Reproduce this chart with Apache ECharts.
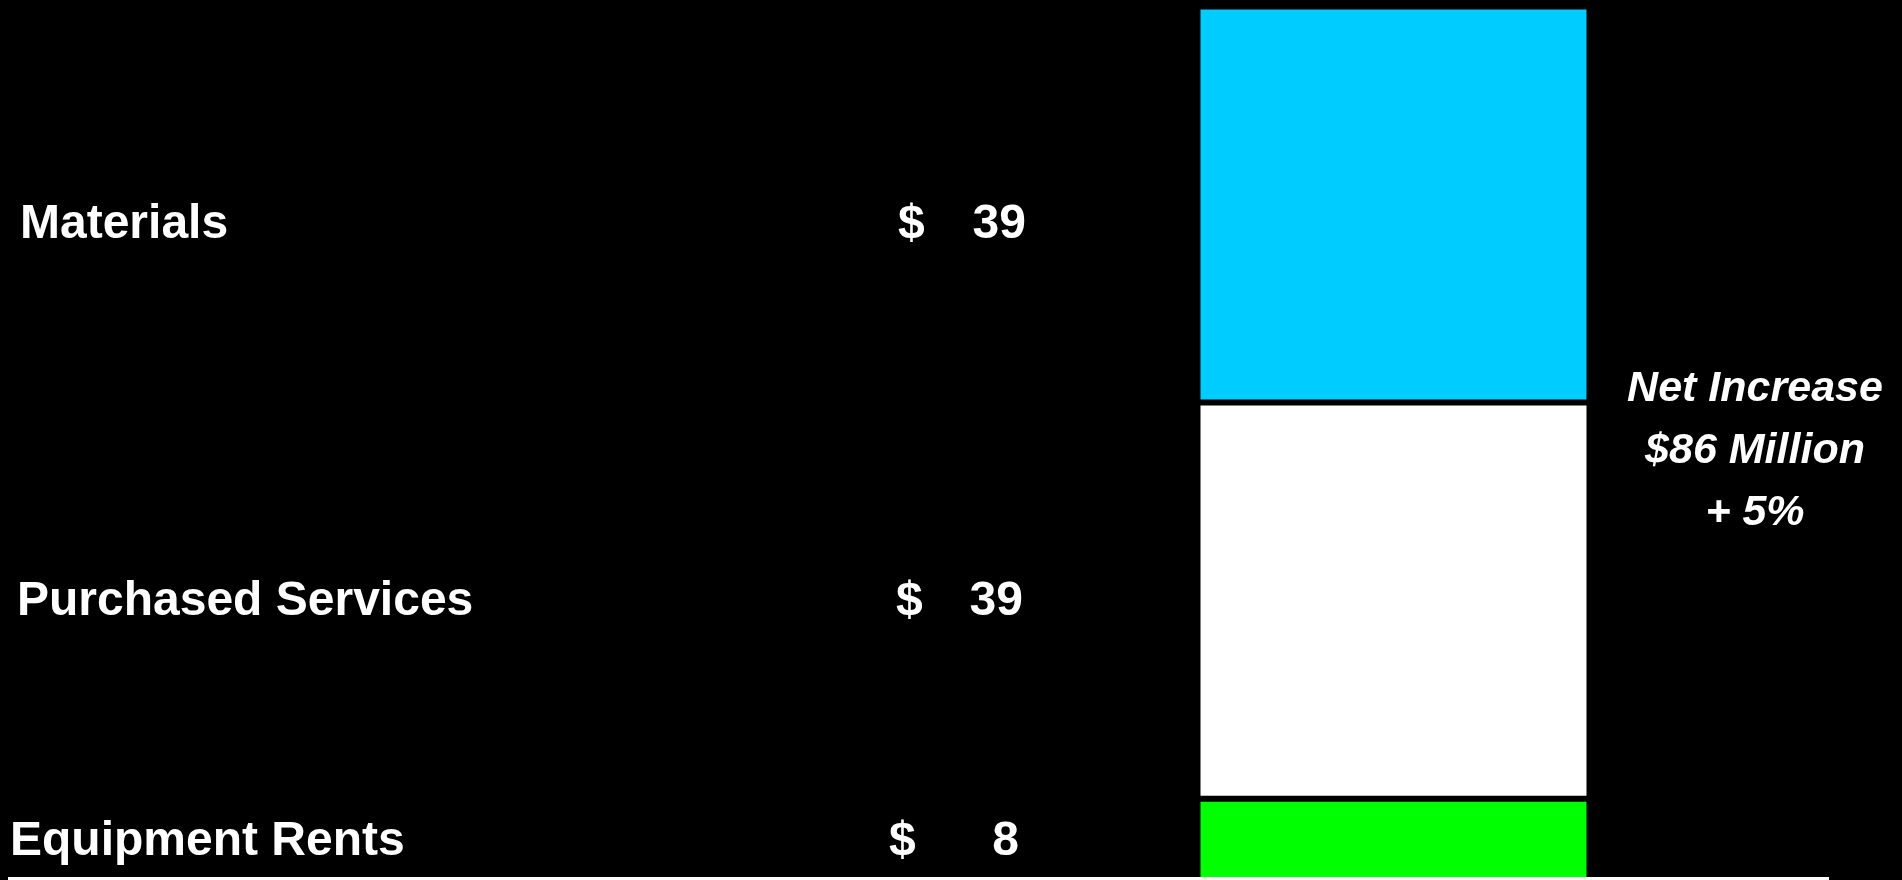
<!DOCTYPE html>
<html>
<head>
<meta charset="utf-8">
<style>
html,body{margin:0;padding:0;background:#000;}
#chart{width:1902px;height:880px;}
</style>
<script src="https://cdn.jsdelivr.net/npm/echarts@6/dist/echarts.min.js"></script>
</head>
<body>
<div id="chart"></div>
<script>
// ---- data ----
const categories = ['Materials', 'Purchased Services', 'Equipment Rents'];
const values = [39, 39, 8];
const barColors = ['#00CCFF', '#FFFFFF', '#00FF00'];
const pctChange = '+ 5%';

// ---- layout (pixel positions of text rows) ----
const rowY = [225, 602, 842];
const nameX = [20, 17, 10];
const dollarX = [898, 896, 889];
const numRightX = [1026, 1023, 1019];
const FONT = '"Liberation Sans", Arial, sans-serif';

const total = values.reduce((a, b) => a + b, 0);
const noteLines = ['Net Increase', '$' + total + ' Million', pctChange];
const noteY = [389, 451, 513];

const chart = echarts.init(document.getElementById('chart'));

// stacking: first category on top, so stack from last to first
const order = [2, 1, 0];
const series = order.map(i => ({
  type: 'bar',
  name: categories[i],
  stack: 'total',
  barWidth: '100%',
  data: [values[i]],
  itemStyle: { color: barColors[i], borderColor: '#000', borderWidth: 3 },
  silent: true
}));

const graphics = [];
categories.forEach((c, i) => {
  graphics.push({
    type: 'text', x: nameX[i], y: rowY[i], z: 10,
    style: { text: c, fill: '#fff', font: 'bold 48px ' + FONT, textAlign: 'left', textVerticalAlign: 'middle' }
  });
  graphics.push({
    type: 'text', x: dollarX[i], y: rowY[i], z: 10,
    style: { text: '$', fill: '#fff', font: 'bold 48px ' + FONT, textAlign: 'left', textVerticalAlign: 'middle' }
  });
  graphics.push({
    type: 'text', x: numRightX[i], y: rowY[i], z: 10,
    style: { text: String(values[i]), fill: '#fff', font: 'bold 48px ' + FONT, textAlign: 'right', textVerticalAlign: 'middle' }
  });
});
noteLines.forEach((t, i) => {
  graphics.push({
    type: 'text', x: 1755, y: noteY[i], z: 10,
    style: { text: t, fill: '#fff', font: 'italic bold 43px ' + FONT, textAlign: 'center', textVerticalAlign: 'middle' }
  });
});
// bottom rule
graphics.push({
  type: 'rect', z: 20,
  shape: { x: 8, y: 877, width: 1821, height: 3 },
  style: { fill: '#fff' }
});

chart.setOption({
  backgroundColor: '#000',
  animation: false,
  grid: { left: 1197.5, top: 6.5, width: 392, height: 877 },
  xAxis: { type: 'category', data: ['Net'], show: false },
  yAxis: { type: 'value', min: 0, max: total, show: false },
  series: series,
  graphic: graphics
});
</script>
</body>
</html>
